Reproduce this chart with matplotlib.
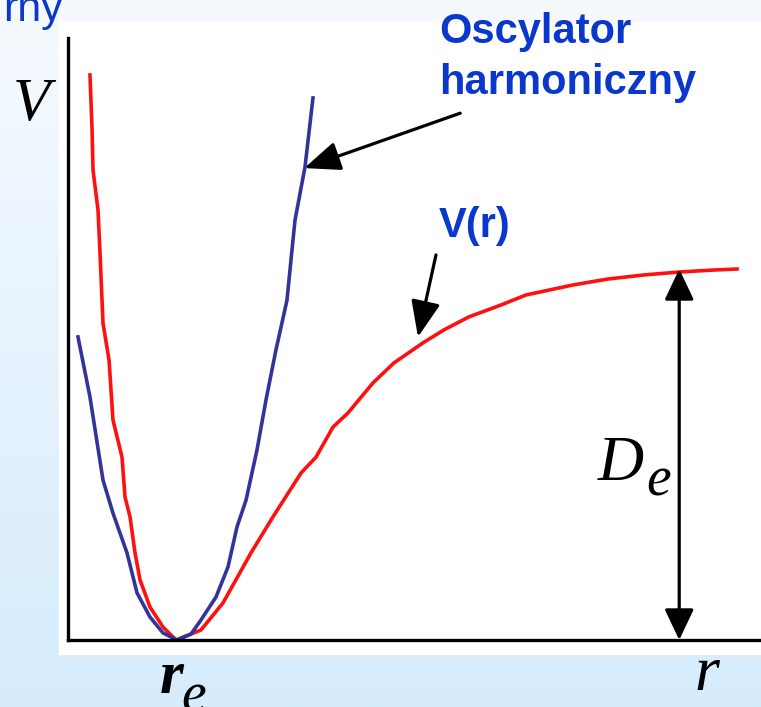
import matplotlib.pyplot as plt
import numpy as np
from matplotlib.patches import Rectangle
from matplotlib.colors import LinearSegmentedColormap

W, H = 761, 707

# Morse-like potential V(r) (r in arbitrary units, V in units of D_e)
morse_r = [0.317, 0.346, 0.361, 0.433, 0.462, 0.505, 0.592, 0.649, 0.779, 0.823, 0.895, 0.967,
           1.039, 1.183, 1.371, 1.558, 1.919, 2.237, 2.641, 2.958, 3.362, 3.579, 3.824, 4.040,
           4.401, 4.704, 5.123, 5.426, 5.786, 6.248, 6.609, 7.287, 7.792, 8.312, 8.831, 9.293, 9.654]
morse_V = [1.523, 1.383, 1.267, 1.159, 1.043, 0.854, 0.755, 0.593, 0.493, 0.385, 0.332, 0.235,
           0.162, 0.089, 0.035, 0.0, 0.027, 0.100, 0.235, 0.332, 0.450, 0.493, 0.574, 0.612,
           0.693, 0.747, 0.801, 0.836, 0.871, 0.903, 0.930, 0.957, 0.973, 0.984, 0.992, 0.997, 1.0]

# harmonic approximation around r_e
harm_r = [0.144, 0.317, 0.505, 0.649, 0.851, 0.996, 1.183, 1.371, 1.573, 1.775, 1.919, 2.136,
          2.309, 2.439, 2.569, 2.727, 2.857, 3.001, 3.160, 3.232, 3.276, 3.420, 3.535]
harm_V = [0.817, 0.655, 0.431, 0.342, 0.235, 0.127, 0.062, 0.019, 0.0, 0.016, 0.054, 0.116,
          0.197, 0.305, 0.377, 0.512, 0.647, 0.782, 0.916, 1.051, 1.132, 1.275, 1.461]

D_e = 1.0
r_D = 8.82   # where the D_e arrow sits

blue_txt = '#0a38cc'
serif = ['Liberation Serif', 'DejaVu Serif']
sans = ['Liberation Sans', 'DejaVu Sans']

fig = plt.figure(figsize=(W / 100, H / 100), dpi=100)

# slide background: pale blue gradient plus a white panel
bg = fig.add_axes([0, 0, 1, 1])
bg.axis('off')
cmap = LinearSegmentedColormap.from_list('slide', ['#f6faff', '#d6ecfc'])
bg.imshow(np.linspace(0, 1, 256)[:, None], aspect='auto', cmap=cmap, extent=[0, 1, 0, 1])
bg.add_patch(Rectangle((59 / W, 1 - 654 / H), (W - 59) / W, (654 - 22) / H,
                       color='white', transform=bg.transAxes))
bg.set_xlim(0, 1)
bg.set_ylim(0, 1)

ax = fig.add_axes([68 / W, 1 - 640 / H, (W - 68) / W, (640 - 38) / H])
ax.patch.set_alpha(0)
ax.set_xlim(0, 10)
ax.set_ylim(0, 602 / 371)
for s in ['top', 'right']:
    ax.spines[s].set_visible(False)
for s in ['left', 'bottom']:
    ax.spines[s].set_linewidth(2.4)
ax.set_xticks([])
ax.set_yticks([])

ax.plot(morse_r, morse_V, color='#ff1010', lw=2.6, solid_joinstyle='round')
ax.plot(harm_r, harm_V, color='#333399', lw=2.6, solid_joinstyle='round')

arrow = dict(color='black', lw=2.3, shrinkA=0, shrinkB=0, mutation_scale=20)
ax.annotate('', xy=(3.41, 1.272), xytext=(5.66, 1.420),
            arrowprops=dict(arrowstyle='-|>,head_length=1.1,head_width=0.45', **arrow))
ax.annotate('', xy=(5.05, 0.817), xytext=(5.31, 1.038),
            arrowprops=dict(arrowstyle='-|>,head_length=1.1,head_width=0.45', **arrow))
ax.annotate('', xy=(r_D, D_e), xytext=(r_D, 0),
            arrowprops=dict(arrowstyle='<|-|>,head_length=0.95,head_width=0.45', **arrow))


def label(x, y, s, **kw):
    # x, y in pixels from the top-left corner, y at the text baseline
    fig.text(x / W, 1 - y / H, s, va='baseline', **kw)


label(63, 21, 'rny', ha='right', color=blue_txt, fontsize=31, family=sans)
label(439, 43, 'Oscylator', color=blue_txt, fontsize=30, fontweight='bold', family=sans)
label(439, 94, 'harmoniczny', color=blue_txt, fontsize=30, fontweight='bold', family=sans)
label(439, 237, 'V(r)', color=blue_txt, fontsize=30, fontweight='bold', family=sans)

label(13, 120, 'V', fontsize=44, style='italic', family=serif)
label(598, 480, 'D', fontsize=46, style='italic', family=serif)
label(646, 495, 'e', fontsize=40, style='italic', family=serif)
label(160, 693, 'r', fontsize=44, style='italic', fontweight='bold', family=serif)
label(181, 712, 'e', fontsize=40, style='italic', family=serif)
label(694, 690, 'r', fontsize=46, style='italic', family=serif)

fig.savefig('out.png', dpi=100)
